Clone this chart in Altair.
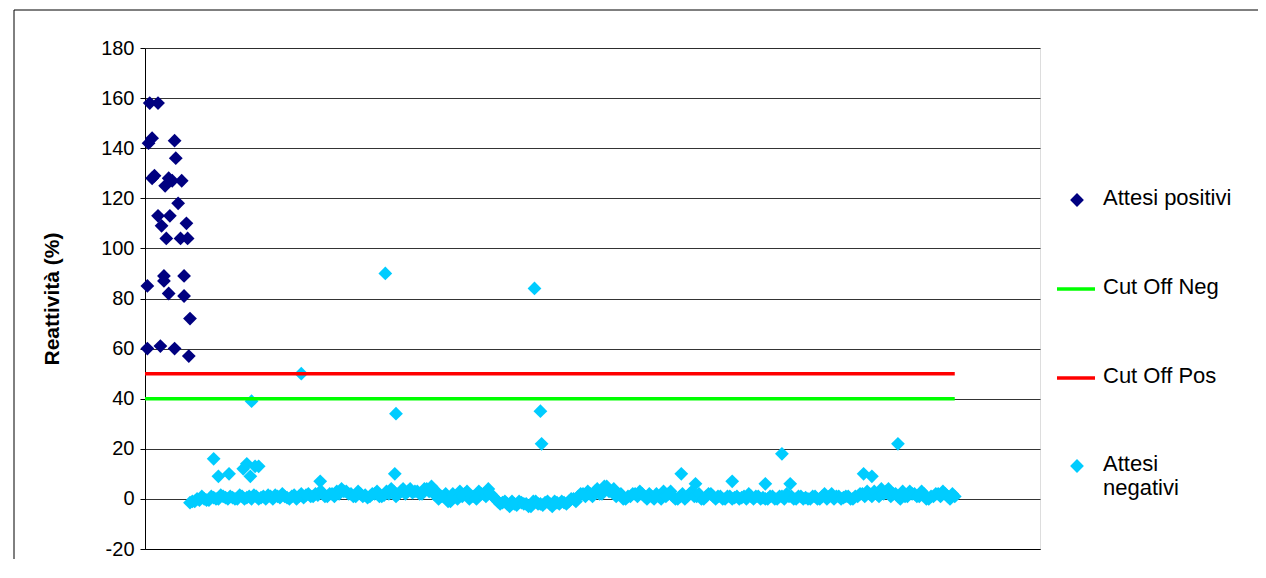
import altair as alt
import pandas as pd

# positives: (index, value)
pos_x = [1, 1, 1.5, 2, 3, 3, 4, 5.5, 5.5, 6.5, 7, 8, 8, 8.5, 9, 10, 10, 10.5, 11.5, 12.5, 12.5, 13, 14, 15, 15.5, 16.5, 16.5, 17.5, 18, 19, 18.5]
pos_y = [60, 85, 142, 158, 144, 128, 129, 158, 113, 61, 109, 89, 87, 125, 104, 82, 128, 113, 127, 143, 60, 136, 118, 104, 127, 89, 81, 110, 104, 72, 57]

# negatives: outliers
out_x = [29, 31, 35.5, 41.5, 43, 44.5, 45, 46.5, 48, 66, 74, 101.5, 105.5, 106, 164.5, 167, 167.5, 226.5, 232.5, 248, 262, 269, 272.5, 303.5, 307, 318]
out_y = [16, 9, 10, 12, 14, 9, 39, 13, 13, 50, 7, 90, 10, 34, 84, 35, 22, 10, 6, 7, 6, 18, 6, 10, 9, 22]

# negatives: baseline values, one every 2 index units from 19
base_y = [
    -1.5, -1, -0.5, 0, -0.5, 0.5, 0, 1, 0, 0.5, 0, 1, 0.5, 0, 1, 0.5,
    0, 1, 1.5, 0.5, 1, 0, 1.5, 1, 0.5, 2, 1, 1.5, 2.5, 1, 2, 3,
    4, 3, 2, 1, 2, 1.5, 1, 2, 1, 1.5, 2, 3, 2, 4, 3, 2.5,
    3, 2, 4, 5, 3, 1, 2, -1, 1, 3, 2, 0, 1, 3, 2, 4,
    1, -1, -1.5, -2, -1, -2.5, -1.5, -2, -3, -1, -2, -1.5, -2, -1, -2, -1.5,
    -1, 0, 1, 2, 3, 1, 4, 2, 5, 3, 1, 2, 0, 1, 2, 3,
    1, 2, 0, 1, 3, 2, 1, 0, 2, 1, 3, 1, 0, 1, 2, 0,
    1, 0, 1, 0.5, 0, 1, 2, 0, 1, 0.5, 0, 1, 0, 1, 2, 1,
    0, 1, 0.5, 0, 1, 0, 2, 1, 0, 1, 0.5, 1, 0, 1, 2, 3,
    1, 2, 4, 3, 1, 2, 0, 1, 3, 2, 1, 2, 0, 1, 2, 3,
    1, 2,
]
# second interleaved set, one every 2 index units from 20
base_y2 = [
    -1, 0, 1, -0.5, 1, 0, 1.5, 0.5, 1, 0, 1.5, 0, 1, 1.5, 0, 1,
    1.5, 0, 1, 2, 0.5, 1, 0, 2, 1.5, 1, 2, 3, 1, 2, 1, 2,
    3, 2, 1, 3, 1, 0.5, 2, 3, 1, 3, 4, 1, 3, 2, 4, 3,
    2, 4, 3, 2, 0, 1, -1, 2, 0, 1, 3, 1, 0, 2, 1, 2,
    0, -2, -1, -3, -2, -1, -2, -3, -1, -2, -2.5, -1, -3, -1.5, -1, -2,
    0, -1, 2, 1, 2, 3, 2, 5, 3, 4, 2, 0, 1, 2, 1, 2,
    0, 1, 2, 0, 1, 3, 0, 1, 0, 2, 1, 2, 0, 2, 1, 1,
    0, 1, 0, 1, 0.5, 0, 1, 1, 0, 0, 1, 0, 1, 0, 1, 0,
    1, 0, 0, 1, 0, 1, 0, 2, 1, 0, 1, 0, 1, 2, 1, 2,
    3, 1, 2, 4, 2, 1, 3, 1, 2, 1, 3, 0, 1, 2, 1, 2,
    0, 1,
]
base_x = [19 + 2 * i for i in range(len(base_y))]
base_x2 = [20 + 2 * i for i in range(len(base_y2))]

cut_neg = 40
cut_pos = 50
line_x = [0, 342]

leg_labels = ["Attesi positivi", "Cut Off Neg", "Cut Off Pos", "Attesi", "negativi"]
leg_y = [120, 84.5, 49, 14, 4.5]

pos = pd.DataFrame({"x": pos_x, "y": pos_y})
neg = pd.DataFrame({"x": out_x + base_x + base_x2, "y": out_y + base_y + base_y2})
lines = pd.DataFrame({"x": line_x * 2, "y": [cut_neg] * 2 + [cut_pos] * 2,
                      "s": ["neg"] * 2 + ["pos"] * 2})
leg = pd.DataFrame({"t": leg_labels, "y": leg_y})

xs = alt.Scale(domain=[0, 378], nice=False, zero=False)
ys = alt.Scale(domain=[-20, 180], nice=False)
FONT = "Liberation Sans"
DIA = dict(shape="diamond", filled=True, size=190, opacity=1)

base = alt.Chart(neg).mark_point(color="#00ccff", **DIA).encode(
    x=alt.X("x:Q", scale=xs, axis=alt.Axis(labels=False, ticks=False, grid=False,
                                           title=None, domainColor="black")),
    y=alt.Y("y:Q", scale=ys, axis=alt.Axis(values=list(range(-20, 181, 20)),
                                           labelExpr="replace(datum.label, '−', '-')",
                                           gridColor="black", gridWidth=0.8,
                                           domainColor="black", tickColor="black",
                                           labelFontSize=20, labelFont=FONT,
                                           labelColor="black", labelPadding=6,
                                           title="Reattività (%)", titleFont=FONT,
                                           titleFontSize=21, titleColor="black",
                                           titlePadding=38)),
)
posm = alt.Chart(pos).mark_point(color="#000080", **DIA).encode(
    x=alt.X("x:Q", scale=xs), y=alt.Y("y:Q", scale=ys))
linem = alt.Chart(lines).mark_line(strokeWidth=3.5).encode(
    x=alt.X("x:Q", scale=xs), y=alt.Y("y:Q", scale=ys), detail="s:N",
    color=alt.Color("s:N", scale=alt.Scale(domain=["neg", "pos"],
                                            range=["#00ff00", "#ff0000"]),
                    legend=None))

# manual legend (Excel-style), to the right of the plot
legtext = alt.Chart(leg).mark_text(align="left", baseline="middle", fontSize=22,
                                   font=FONT, color="black").encode(
    x=alt.value(958), y=alt.Y("y:Q", scale=ys), text="t:N")
one = "datum.x == 1 && datum.y == 60"
leg_dpos = alt.Chart(pos).mark_point(color="#000080", **DIA).encode(
    x=alt.value(932), y=alt.value(152)).transform_filter(one)
leg_dneg = alt.Chart(pos).mark_point(color="#00ccff", **DIA).encode(
    x=alt.value(932), y=alt.value(418)).transform_filter(one)
leg_gn = alt.Chart(pos).mark_rule(color="#00ff00", strokeWidth=3.5).encode(
    x=alt.value(912), x2=alt.value(950), y=alt.value(241)).transform_filter(one)
leg_rd = alt.Chart(pos).mark_rule(color="#ff0000", strokeWidth=3.5).encode(
    x=alt.value(912), x2=alt.value(950), y=alt.value(330)).transform_filter(one)
frame = alt.Chart(pos).mark_rect(filled=False, stroke="black", strokeWidth=1).encode(
    x=alt.value(-131), x2=alt.value(1114), y=alt.value(-38), y2=alt.value(540)
).transform_filter(one)

chart = alt.layer(base, linem, posm, leg_dpos, leg_dneg, leg_gn, leg_rd,
                  legtext, frame).properties(
    width=895, height=501,
    autosize=alt.AutoSizeParams(type="none"),
    padding={"left": 137, "top": 40, "right": 218, "bottom": 10},
).configure_view(stroke=None).configure(background="white")

chart.save("out.html", embed_options={"renderer": "svg", "actions": False})
